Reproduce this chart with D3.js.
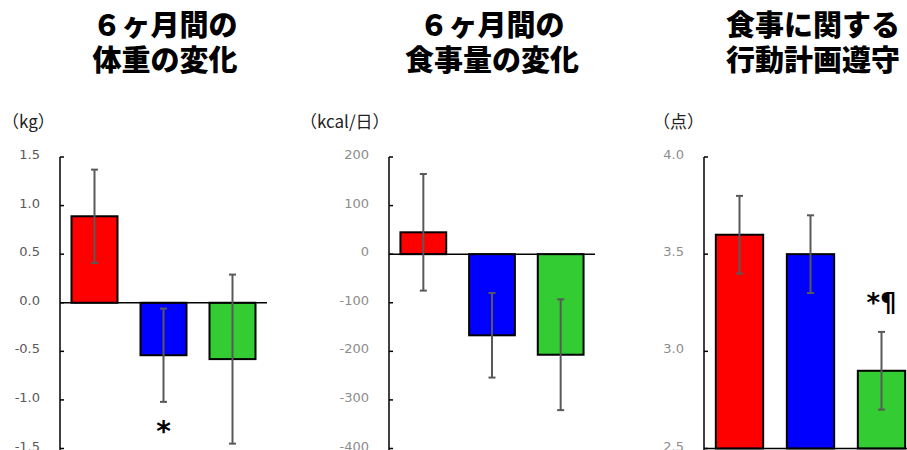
<!DOCTYPE html>
<html>
<head>
<meta charset="utf-8">
<script src="https://cdn.jsdelivr.net/npm/d3@7"></script>
<style>
  body { margin: 0; background: #fff; }
  .title { font-family: "Noto Sans CJK JP", sans-serif; font-weight: 900; font-size: 29px; fill: #000; }
  .unit { font-family: "Noto Sans CJK JP", sans-serif; font-size: 17px; fill: #222; }
  .tick-label { font-family: "DejaVu Sans", sans-serif; font-size: 13px; }
  .mark { font-family: "DejaVu Sans", sans-serif; font-weight: bold; fill: #000; }
</style>
</head>
<body>
<svg id="chart" width="907" height="450"></svg>
<script>
// groups (same order in every panel)
const groups = ['A', 'B', 'C'];
const barColors = ['#ff0000', '#0000ff', '#33cc33'];

// panel 1: weight change over 6 months (kg)
const weightMean = [0.89, -0.54, -0.58];
const weightErr = [0.48, 0.48, 0.87];
const weightTicks = [1.5, 1.0, 0.5, 0.0, -0.5, -1.0, -1.5];

// panel 2: food intake change (kcal/day)
const intakeMean = [45, -167, -207];
const intakeErr = [120, 87, 114];
const intakeTicks = [200, 100, 0, -100, -200, -300, -400];

// panel 3: adherence score
const adherMean = [3.6, 3.5, 2.9];
const adherErr = [0.2, 0.2, 0.2];
const adherTicks = [4.0, 3.5, 3.0, 2.5];

const svg = d3.select('#chart');

function drawPanel(opt) {
  const g = svg.append('g');
  const x = d3.scaleBand().domain(groups).range([opt.left, opt.right]).paddingInner(0).paddingOuter(0);
  const y = d3.scaleLinear().domain(opt.domain).range([opt.bottom, opt.top]);
  const bw = x.bandwidth() * 2 / 3;
  const base = opt.base;
  const cx = i => x(groups[i]) + x.bandwidth() / 2;

  // title
  opt.title.forEach((t, i) => {
    g.append('text').attr('class', 'title')
      .attr('x', opt.titleX).attr('y', 36 + i * 35)
      .attr('text-anchor', 'middle').text(t);
  });

  // unit
  g.append('text').attr('class', 'unit')
    .attr('x', opt.unitX).attr('y', 128).text(opt.unit);

  // tick labels
  g.selectAll('.tick-label').data(opt.ticks).join('text')
    .attr('class', 'tick-label')
    .attr('x', opt.left - 20).attr('y', d => y(d) + 2)
    .attr('text-anchor', 'end')
    .attr('fill', opt.tickColor)
    .text(d => opt.fmt(d));

  // inward ticks
  g.selectAll('.tk').data(opt.ticks).join('line')
    .attr('x1', opt.left).attr('x2', opt.left + 4)
    .attr('y1', d => y(d)).attr('y2', d => y(d))
    .attr('stroke', '#000').attr('stroke-width', 1.5);

  // bars
  g.selectAll('.bar').data(opt.mean).join('rect')
    .attr('x', (d, i) => x(groups[i]) + (x.bandwidth() - bw) / 2)
    .attr('width', bw)
    .attr('y', d => Math.min(y(d), y(base)))
    .attr('height', d => Math.abs(y(d) - y(base)))
    .attr('fill', (d, i) => barColors[i])
    .attr('stroke', '#000').attr('stroke-width', 2);

  // baseline + axis
  g.append('line')
    .attr('x1', opt.left).attr('x2', opt.right)
    .attr('y1', y(base)).attr('y2', y(base))
    .attr('stroke', '#000').attr('stroke-width', 1.5);
  g.append('line')
    .attr('x1', opt.left).attr('x2', opt.left)
    .attr('y1', opt.top).attr('y2', opt.bottom + 2)
    .attr('stroke', '#000').attr('stroke-width', 1.5);

  // error bars
  const eb = g.selectAll('.err').data(opt.mean).join('g');
  eb.append('line')
    .attr('x1', (d, i) => cx(i)).attr('x2', (d, i) => cx(i))
    .attr('y1', (d, i) => y(d + opt.err[i]))
    .attr('y2', (d, i) => y(d - opt.err[i]))
    .attr('stroke', '#595959').attr('stroke-width', 2);
  [1, -1].forEach(s => {
    eb.append('line')
      .attr('x1', (d, i) => cx(i) - 3.5)
      .attr('x2', (d, i) => cx(i) + 3.5)
      .attr('y1', (d, i) => y(d + s * opt.err[i]))
      .attr('y2', (d, i) => y(d + s * opt.err[i]))
      .attr('stroke', '#595959').attr('stroke-width', 2);
  });

  // significance marks
  opt.marks.forEach(m => {
    g.append('text').attr('class', 'mark')
      .attr('x', cx(m.i)).attr('y', y(m.v))
      .attr('font-size', m.size)
      .attr('text-anchor', 'middle')
      .text(m.text);
  });
}

drawPanel({
  title: ['６ヶ月間の', '体重の変化'], titleX: 165,
  unit: '（kg）', unitX: 2,
  left: 60, right: 267, top: 157, bottom: 448.5,
  domain: [-1.5, 1.5], ticks: weightTicks, fmt: d => d.toFixed(1),
  tickColor: '#595959', base: 0,
  mean: weightMean, err: weightErr,
  marks: [{i: 1, v: -1.42, text: '*', size: 28}]
});

drawPanel({
  title: ['６ヶ月間の', '食事量の変化'], titleX: 492,
  unit: '（kcal/日）', unitX: 300,
  left: 389, right: 595, top: 157, bottom: 448.5,
  domain: [-400, 200], ticks: intakeTicks, fmt: d => String(d),
  tickColor: '#8c8c8c', base: 0,
  mean: intakeMean, err: intakeErr,
  marks: []
});

drawPanel({
  title: ['食事に関する', '行動計画遵守'], titleX: 813,
  unit: '（点）', unitX: 653,
  left: 704, right: 917, top: 157, bottom: 448.5,
  domain: [2.5, 4.0], ticks: adherTicks, fmt: d => d.toFixed(1),
  tickColor: '#8c8c8c', base: 2.5,
  mean: adherMean, err: adherErr,
  marks: [{i: 2, v: 3.2, text: '*¶', size: 26}]
});
</script>
</body>
</html>
